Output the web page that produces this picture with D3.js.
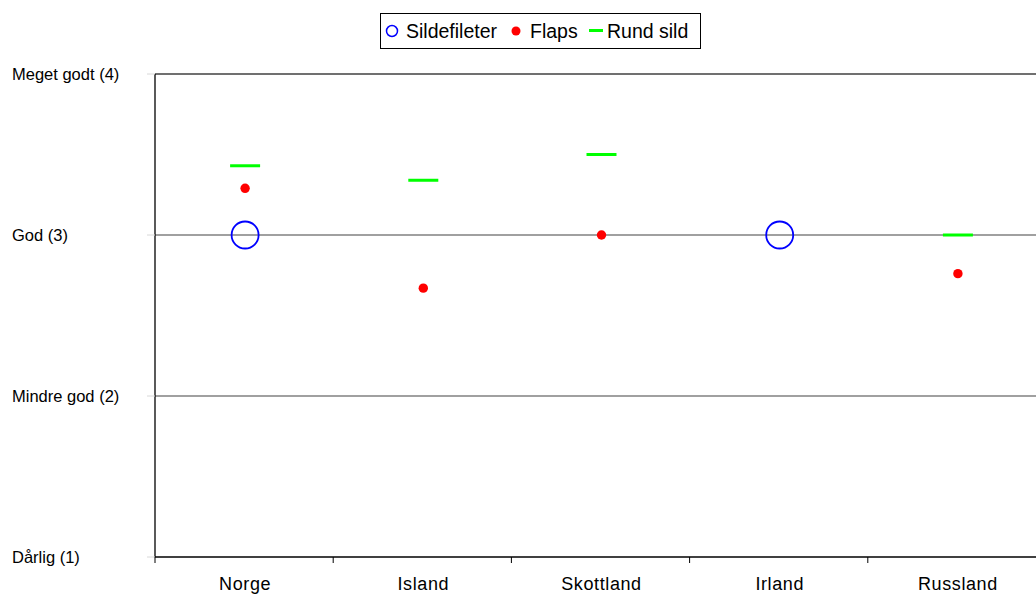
<!DOCTYPE html>
<html><head><meta charset="utf-8">
<script src="https://cdn.jsdelivr.net/npm/d3@7"></script>
<style>body{margin:0;background:#fff;overflow:hidden}svg{display:block;font-family:"Liberation Sans",Arial,sans-serif}</style>
</head><body><svg id="c" width="1036" height="595"></svg>
<script>
const categories = ["Norge","Island","Skottland","Irland","Russland"];
const sildefileter = [3, null, null, 3, null];
const flaps = [3.29, 2.67, 3.0, null, 2.76];
const rundSild = [3.43, 3.34, 3.5, null, 3.0];
const yTickValues = [1,2,3,4];
const yTickLabels = ["Dårlig (1)","Mindre god (2)","God (3)","Meget godt (4)"];

const svg = d3.select("#c");
const plotLeft = 155, plotTop = 74, plotBottom = 557, bandW = 178.2;
const plotRight = plotLeft + bandW*categories.length;
const x = d3.scaleBand().domain(categories).range([plotLeft, plotRight]).padding(0);
const y = d3.scaleLinear().domain([1,4]).range([plotBottom, plotTop]);

// gridlines
svg.append("g").selectAll("line").data([2,3]).join("line")
  .attr("x1", plotLeft).attr("x2", plotRight).attr("y1", d=>y(d)).attr("y2", d=>y(d))
  .attr("stroke", "#808080").attr("stroke-width", 1.5);
// top border
svg.append("line").attr("x1", plotLeft).attr("x2", plotRight).attr("y1", y(4)).attr("y2", y(4))
  .attr("stroke", "#404040").attr("stroke-width", 1.5);

// y axis
svg.append("line").attr("x1", plotLeft).attr("x2", plotLeft).attr("y1", plotTop).attr("y2", plotBottom)
  .attr("stroke", "#000").attr("stroke-width", 1.3);
svg.append("g").selectAll("line").data(yTickValues).join("line")
  .attr("x1", plotLeft-8).attr("x2", plotLeft).attr("y1", d=>y(d)).attr("y2", d=>y(d))
  .attr("stroke", "#d8d8d8").attr("stroke-width", 1);
svg.append("g").selectAll("text").data(yTickValues).join("text")
  .attr("x", 12).attr("y", d=>y(d)).attr("dy", "0.35em")
  .attr("font-size", 16.5).attr("fill", "#000")
  .text((d,i)=>yTickLabels[i]);

// x axis
svg.append("line").attr("x1", plotLeft).attr("x2", plotRight).attr("y1", plotBottom).attr("y2", plotBottom)
  .attr("stroke", "#000").attr("stroke-width", 1.3);
const bounds = categories.map(c=>x(c));
svg.append("g").selectAll("line").data(bounds).join("line")
  .attr("x1", d=>d).attr("x2", d=>d).attr("y1", plotBottom).attr("y2", plotBottom+6)
  .attr("stroke", "#000").attr("stroke-width", 1);
svg.append("g").selectAll("text").data(categories).join("text")
  .attr("x", d=>x(d)+x.bandwidth()/2+1).attr("y", 590)
  .attr("text-anchor", "middle").attr("font-size", 18).attr("letter-spacing", "0.6px")
  .attr("fill", "#000").text(d=>d);

const cx = (i)=>x(categories[i]) + x.bandwidth()/2 + 1;

// Sildefileter circles
svg.append("g").selectAll("circle").data(sildefileter.map((v,i)=>({v,i})).filter(d=>d.v!=null)).join("circle")
  .attr("cx", d=>cx(d.i)).attr("cy", d=>y(d.v)).attr("r", 13.5)
  .attr("fill", "none").attr("stroke", "#0000ff").attr("stroke-width", 1.8);
// Flaps dots
svg.append("g").selectAll("circle").data(flaps.map((v,i)=>({v,i})).filter(d=>d.v!=null)).join("circle")
  .attr("cx", d=>cx(d.i)).attr("cy", d=>y(d.v)).attr("r", 4.7)
  .attr("fill", "#ff0000");
// Rund sild dashes
svg.append("g").selectAll("line").data(rundSild.map((v,i)=>({v,i})).filter(d=>d.v!=null)).join("line")
  .attr("x1", d=>cx(d.i)-15).attr("x2", d=>cx(d.i)+15).attr("y1", d=>y(d.v)).attr("y2", d=>y(d.v))
  .attr("stroke", "#00ff00").attr("stroke-width", 3);

// legend
const lg = svg.append("g");
lg.append("rect").attr("x", 380.5).attr("y", 13.5).attr("width", 320).attr("height", 35)
  .attr("fill", "#fff").attr("stroke", "#000").attr("stroke-width", 1);
lg.append("circle").attr("cx", 392).attr("cy", 31).attr("r", 5.5).attr("fill", "none").attr("stroke", "#0000ff").attr("stroke-width", 1.5);
lg.append("text").attr("x", 406).attr("y", 31).attr("dy", "0.35em").attr("font-size", 19.5).text("Sildefileter");
lg.append("circle").attr("cx", 516).attr("cy", 31).attr("r", 4.5).attr("fill", "#ff0000");
lg.append("text").attr("x", 530).attr("y", 31).attr("dy", "0.35em").attr("font-size", 19.5).text("Flaps");
lg.append("line").attr("x1", 589).attr("x2", 603).attr("y1", 30.5).attr("y2", 30.5).attr("stroke", "#00ff00").attr("stroke-width", 3);
lg.append("text").attr("x", 607).attr("y", 31).attr("dy", "0.35em").attr("font-size", 19.5).text("Rund sild");
</script></body></html>
